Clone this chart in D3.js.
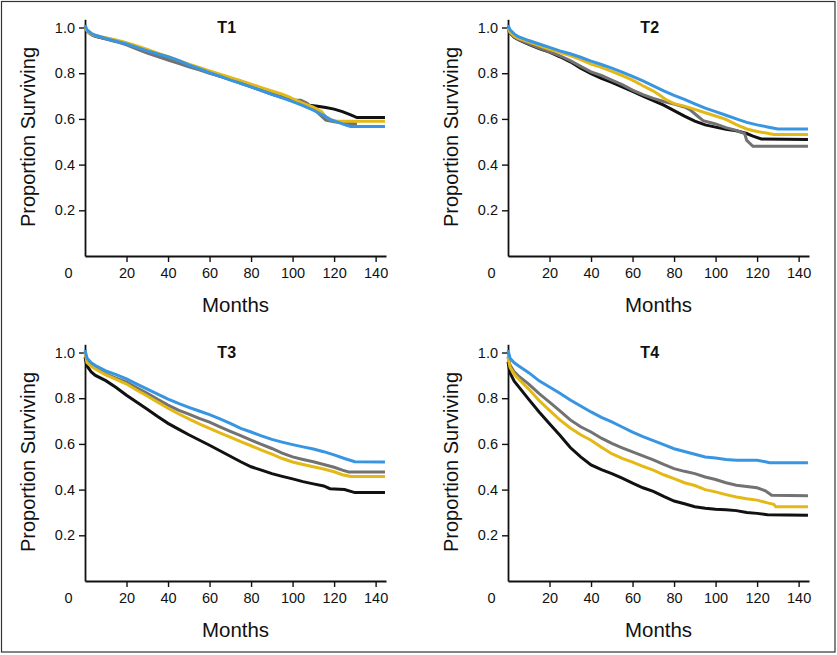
<!DOCTYPE html>
<html><head><meta charset="utf-8">
<script src="https://cdn.jsdelivr.net/npm/d3@7"></script>
<style>
html,body{margin:0;padding:0;background:#fff;}
svg{display:block;font-family:"Liberation Sans",Arial,Helvetica,sans-serif;}
</style></head>
<body>
<svg id="c" width="837" height="655"></svg>
<script>
// ---- data ----
const panelTitles = ["T1","T2","T3","T4"];
const seriesNames = ["black","gray","yellow","blue"];
const xTicks = [20,40,60,80,100,120,140];
const yTicks = [0.2,0.4,0.6,0.8,1.0];

const t1Black = [[0,1.0],[1,0.985],[3,0.97],[5,0.962],[10,0.952],[15,0.942],[20,0.928],[25,0.912],[30,0.895],[35,0.88],[40,0.866],[45,0.85],[50,0.833],[55,0.818],[60,0.803],[65,0.788],[70,0.773],[75,0.758],[80,0.742],[85,0.726],[90,0.71],[95,0.695],[100,0.682],[104,0.668],[108,0.66],[112,0.655],[116,0.65],[120,0.643],[124,0.632],[128,0.618],[131,0.606],[144.5,0.606]];
const t1Gray = [[0,1.0],[1,0.985],[3,0.97],[5,0.962],[10,0.95],[15,0.938],[20,0.924],[25,0.906],[30,0.888],[35,0.873],[40,0.858],[45,0.843],[50,0.828],[55,0.815],[60,0.8],[65,0.786],[70,0.772],[75,0.756],[80,0.74],[85,0.724],[90,0.708],[95,0.694],[100,0.683],[104,0.682],[107,0.668],[110,0.645],[113,0.62],[116,0.595],[120,0.588],[125,0.582],[131,0.578]];
const t1Yellow = [[0,1.0],[1,0.987],[3,0.972],[5,0.965],[10,0.955],[15,0.946],[20,0.934],[25,0.92],[30,0.904],[35,0.888],[40,0.872],[45,0.856],[50,0.84],[55,0.825],[60,0.81],[65,0.796],[70,0.782],[75,0.767],[80,0.752],[85,0.737],[90,0.722],[95,0.708],[98,0.698],[102,0.68],[106,0.665],[110,0.652],[114,0.632],[116,0.61],[118,0.598],[121,0.59],[144.5,0.59]];
const t1Blue = [[0,1.01],[1,0.99],[3,0.975],[5,0.966],[10,0.952],[15,0.94],[20,0.928],[25,0.913],[30,0.898],[35,0.884],[40,0.872],[45,0.856],[50,0.836],[55,0.82],[60,0.802],[65,0.787],[70,0.77],[75,0.756],[80,0.74],[85,0.724],[90,0.708],[95,0.692],[100,0.676],[105,0.658],[110,0.638],[115,0.615],[118,0.598],[122,0.585],[126,0.572],[128,0.567],[144.5,0.567]];

const t2Black = [[0,1.0],[1,0.975],[3,0.957],[5,0.947],[10,0.926],[15,0.908],[20,0.892],[25,0.872],[30,0.85],[35,0.822],[40,0.798],[45,0.778],[50,0.76],[55,0.74],[60,0.72],[65,0.7],[70,0.68],[75,0.66],[80,0.636],[85,0.612],[90,0.59],[95,0.574],[100,0.564],[105,0.555],[110,0.548],[115,0.536],[118,0.525],[122,0.512],[144.5,0.51]];
const t2Gray = [[0,1.0],[1,0.976],[3,0.958],[5,0.948],[10,0.928],[15,0.91],[20,0.894],[25,0.876],[30,0.855],[35,0.83],[40,0.806],[45,0.79],[50,0.77],[55,0.75],[60,0.726],[65,0.706],[70,0.69],[75,0.676],[80,0.665],[85,0.652],[88,0.638],[91,0.615],[94,0.592],[100,0.578],[105,0.562],[110,0.55],[114,0.536],[115,0.506],[118,0.48],[144.5,0.48]];
const t2Yellow = [[0,1.0],[1,0.98],[3,0.963],[5,0.953],[10,0.937],[15,0.921],[20,0.905],[25,0.891],[30,0.877],[35,0.86],[40,0.84],[45,0.826],[50,0.808],[55,0.79],[60,0.77],[65,0.745],[70,0.722],[73,0.705],[76,0.685],[80,0.667],[85,0.656],[90,0.642],[95,0.627],[100,0.613],[105,0.598],[110,0.575],[115,0.556],[120,0.545],[125,0.537],[128,0.532],[144.5,0.532]];
const t2Blue = [[0,1.01],[1,0.99],[3,0.972],[5,0.96],[10,0.943],[15,0.928],[20,0.913],[25,0.898],[30,0.885],[35,0.87],[40,0.853],[45,0.838],[50,0.822],[55,0.805],[60,0.786],[65,0.766],[70,0.745],[75,0.723],[80,0.703],[85,0.686],[90,0.666],[95,0.647],[100,0.632],[105,0.616],[110,0.6],[115,0.585],[120,0.574],[125,0.565],[130,0.556],[144.5,0.556]];

const t3Black = [[0,0.98],[1,0.94],[3,0.915],[5,0.9],[10,0.877],[15,0.847],[20,0.813],[25,0.782],[30,0.752],[35,0.72],[40,0.69],[45,0.665],[50,0.64],[55,0.617],[60,0.594],[65,0.57],[70,0.546],[75,0.522],[80,0.5],[85,0.485],[90,0.47],[95,0.458],[100,0.447],[105,0.435],[110,0.425],[115,0.416],[118,0.404],[125,0.4],[130,0.387],[144.5,0.387]];
const t3Gray = [[0,1.0],[1,0.96],[3,0.945],[5,0.933],[10,0.907],[15,0.888],[20,0.87],[25,0.845],[30,0.822],[35,0.795],[40,0.77],[45,0.748],[50,0.73],[55,0.712],[60,0.695],[65,0.675],[70,0.655],[75,0.636],[80,0.617],[85,0.598],[90,0.58],[95,0.56],[100,0.543],[105,0.532],[110,0.522],[115,0.51],[120,0.498],[124,0.485],[127,0.477],[144.5,0.477]];
const t3Yellow = [[0,1.0],[1,0.955],[3,0.94],[5,0.928],[10,0.902],[15,0.882],[20,0.862],[25,0.835],[30,0.81],[35,0.783],[40,0.756],[45,0.732],[50,0.71],[55,0.688],[60,0.668],[65,0.648],[70,0.63],[75,0.61],[80,0.592],[85,0.573],[90,0.555],[95,0.536],[100,0.521],[105,0.51],[110,0.5],[115,0.49],[120,0.478],[124,0.465],[128,0.457],[144.5,0.457]];
const t3Blue = [[0,1.01],[1,0.975],[3,0.955],[5,0.943],[10,0.92],[15,0.903],[20,0.885],[25,0.862],[30,0.84],[35,0.818],[40,0.796],[45,0.777],[50,0.76],[55,0.744],[60,0.728],[65,0.71],[70,0.69],[75,0.668],[80,0.652],[85,0.635],[90,0.62],[95,0.608],[100,0.597],[105,0.587],[110,0.578],[115,0.566],[120,0.552],[125,0.536],[130,0.522],[144.5,0.521]];

const t4Black = [[0,0.96],[1,0.91],[3,0.875],[5,0.852],[10,0.795],[15,0.74],[20,0.688],[25,0.638],[30,0.584],[35,0.543],[40,0.508],[45,0.487],[50,0.47],[55,0.45],[60,0.428],[65,0.408],[70,0.392],[75,0.37],[80,0.35],[85,0.338],[90,0.325],[95,0.318],[100,0.314],[105,0.312],[110,0.308],[115,0.3],[120,0.296],[125,0.29],[144.5,0.288]];
const t4Gray = [[0,0.98],[1,0.945],[3,0.915],[5,0.898],[10,0.862],[15,0.82],[20,0.783],[25,0.745],[30,0.705],[35,0.675],[40,0.652],[45,0.625],[50,0.602],[55,0.583],[60,0.565],[65,0.548],[70,0.53],[75,0.51],[80,0.492],[85,0.48],[90,0.47],[95,0.455],[100,0.444],[105,0.43],[110,0.419],[115,0.414],[120,0.408],[124,0.395],[127,0.375],[144.5,0.373]];
const t4Yellow = [[0,0.98],[1,0.935],[3,0.905],[5,0.885],[10,0.84],[15,0.79],[20,0.747],[25,0.705],[30,0.67],[35,0.64],[40,0.616],[45,0.585],[50,0.557],[55,0.537],[60,0.52],[65,0.502],[70,0.485],[75,0.465],[80,0.448],[85,0.43],[90,0.418],[95,0.4],[100,0.39],[105,0.378],[110,0.368],[115,0.36],[120,0.354],[125,0.342],[128,0.336],[129,0.325],[144.5,0.325]];
const t4Blue = [[0,1.01],[1,0.975],[3,0.955],[5,0.942],[10,0.912],[15,0.876],[20,0.849],[25,0.822],[30,0.792],[35,0.766],[40,0.74],[45,0.716],[50,0.696],[55,0.674],[60,0.652],[65,0.632],[70,0.614],[75,0.597],[80,0.579],[85,0.567],[90,0.555],[95,0.543],[100,0.538],[105,0.532],[110,0.528],[120,0.528],[124,0.522],[126,0.518],[144.5,0.518]];

const panelData = [
  [t1Black,t1Gray,t1Yellow,t1Blue],
  [t2Black,t2Gray,t2Yellow,t2Blue],
  [t3Black,t3Gray,t3Yellow,t3Blue],
  [t4Black,t4Gray,t4Yellow,t4Blue]
];

// ---- styles ----
const colors = {black:"#111111", gray:"#727272", yellow:"#e4b815", blue:"#3895e2"};
const offsets = [[0,0],[423,0],[0,325],[423,325]];

const svg = d3.select("#c");
svg.append("rect").attr("x",1.5).attr("y",1.5).attr("width",833.5).attr("height",650.5)
  .attr("fill","none").attr("stroke","#333").attr("stroke-width",1.2);

const x = d3.scaleLinear().domain([0,145]).range([85,386]);
const y = d3.scaleLinear().domain([0,1.036]).range([256,19.3]);

panelData.forEach((series,i)=>{
  const g = svg.append("g").attr("transform",`translate(${offsets[i][0]},${offsets[i][1]})`);

  const xa = g.append("g").attr("transform",`translate(0,${y(0)})`)
    .call(d3.axisBottom(x).tickValues(xTicks).tickSize(6).tickSizeOuter(0).tickPadding(6));
  const ya = g.append("g").attr("transform",`translate(${x(0)},0)`)
    .call(d3.axisLeft(y).tickValues(yTicks).tickFormat(d3.format(".1f")).tickSize(6).tickSizeOuter(0).tickPadding(4));
  [xa,ya].forEach(a=>{
    a.select(".domain").attr("stroke","#111").attr("stroke-width",1.8);
    a.selectAll(".tick line").attr("stroke","#111").attr("stroke-width",1.4);
    a.selectAll(".tick text").attr("fill","#111").style("font-size","14.5px")
      .style("font-family",'"Liberation Sans",Arial,sans-serif');
  });
  g.append("text").attr("x",68.5).attr("y",277.8).attr("text-anchor","middle")
    .style("font-size","14.5px").attr("fill","#111").text("0");

  const line = d3.line().x(d=>x(d[0])).y(d=>y(d[1])).curve(d3.curveLinear);
  series.forEach((s,j)=>{
    g.append("path").datum(s).attr("d",line).attr("fill","none")
      .attr("stroke",colors[seriesNames[j]]).attr("stroke-width",3)
      .attr("stroke-linejoin","miter");
  });

  g.append("text").attr("x",226.7).attr("y",33.3).attr("text-anchor","middle")
    .style("font-size","16px").style("font-weight","bold").attr("fill","#111").text(panelTitles[i]);
  g.append("text").attr("x",(x.range()[0]+x.range()[1])/2).attr("y",311.7).attr("text-anchor","middle")
    .style("font-size","21px").attr("fill","#111")
    .attr("textLength",67).attr("lengthAdjust","spacingAndGlyphs").text("Months");
  g.append("text").attr("transform",`translate(35,137) rotate(-90)`).attr("text-anchor","middle")
    .style("font-size","21px").attr("fill","#111")
    .attr("textLength",180).attr("lengthAdjust","spacingAndGlyphs").text("Proportion Surviving");
});
</script>
</body></html>
